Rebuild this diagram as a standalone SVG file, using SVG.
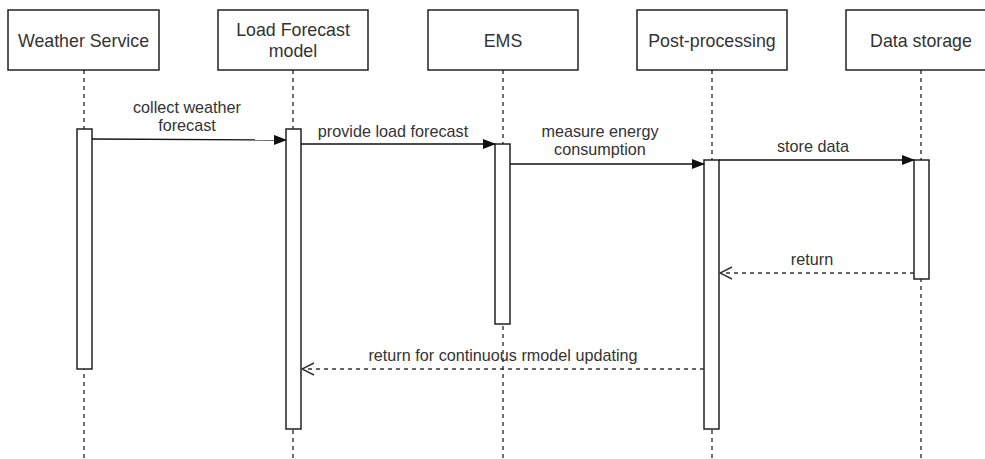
<svg xmlns="http://www.w3.org/2000/svg" width="985" height="459" viewBox="0 0 985 459">
  <style>
    .box { fill: #fff; stroke: #222; stroke-width: 1.5; }
    .act { fill: #fff; stroke: #222; stroke-width: 1.5; }
    .life { stroke: #222; stroke-width: 1.3; stroke-dasharray: 4 4; fill: none; }
    .msg { stroke: #111; stroke-width: 1.4; fill: none; }
    .ret { stroke: #333; stroke-width: 1.3; stroke-dasharray: 4 4; fill: none; }
    .title { font-family: "Liberation Sans", Arial, sans-serif; font-size: 17.8px; fill: #333; text-anchor: middle; }
    .lbl { font-family: "Liberation Sans", Arial, sans-serif; font-size: 16.2px; fill: #333; text-anchor: middle; }
  </style>
  <defs>
    <marker id="solid" markerWidth="13" markerHeight="10" refX="12" refY="5" orient="auto" markerUnits="userSpaceOnUse">
      <path d="M0,0 L13,5 L0,10 Z" fill="#111"/>
    </marker>
    <marker id="open" markerWidth="14" markerHeight="14" refX="13" refY="7" orient="auto" markerUnits="userSpaceOnUse">
      <path d="M1,1 L13,7 L1,13" fill="none" stroke="#333" stroke-width="1.4"/>
    </marker>
  </defs>
  <rect width="985" height="459" fill="#fff"/>

  <!-- lifelines -->
  <g id="lifelines">
    <line class="life" x1="84" y1="70" x2="84" y2="459"/>
    <line class="life" x1="293" y1="70" x2="293" y2="459"/>
    <line class="life" x1="503" y1="70" x2="503" y2="459"/>
    <line class="life" x1="712" y1="70" x2="712" y2="459"/>
    <line class="life" x1="921" y1="70" x2="921" y2="459"/>
  </g>

  <g id="weather-service">
    <rect class="box" x="8" y="10" width="151" height="60"/>
    <text class="title" x="83.5" y="47">Weather Service</text>
    <rect class="act" x="77" y="129" width="15" height="240"/>
  </g>
  <g id="load-forecast-model">
    <rect class="box" x="218" y="10" width="150" height="60"/>
    <text class="title" x="293" y="36">Load Forecast</text>
    <text class="title" x="293" y="57">model</text>
    <rect class="act" x="286" y="129" width="15" height="300"/>
  </g>
  <g id="ems">
    <rect class="box" x="428" y="10" width="150" height="60"/>
    <text class="title" x="503" y="47">EMS</text>
    <rect class="act" x="495" y="144" width="15" height="180"/>
  </g>
  <g id="post-processing">
    <rect class="box" x="637" y="10" width="150" height="60"/>
    <text class="title" x="712" y="47">Post-processing</text>
    <rect class="act" x="704" y="160" width="15" height="269"/>
  </g>
  <g id="data-storage">
    <rect class="box" x="846" y="10" width="150" height="60"/>
    <text class="title" x="921" y="47">Data storage</text>
    <rect class="act" x="914" y="160" width="15" height="119"/>
  </g>

  <g id="connectors">
    <line class="msg" x1="92" y1="139" x2="286" y2="140" marker-end="url(#solid)"/>
    <text class="lbl" x="187" y="113">collect weather</text>
    <text class="lbl" x="187" y="131">forecast</text>

    <line class="msg" x1="301" y1="144" x2="495" y2="144" marker-end="url(#solid)"/>
    <text class="lbl" x="393" y="137">provide load forecast</text>

    <line class="msg" x1="510" y1="164" x2="704" y2="164" marker-end="url(#solid)"/>
    <text class="lbl" x="600" y="137">measure energy</text>
    <text class="lbl" x="600" y="155">consumption</text>

    <line class="msg" x1="719" y1="160" x2="914" y2="160" marker-end="url(#solid)"/>
    <text class="lbl" x="813" y="152">store data</text>

    <line class="ret" x1="914" y1="273" x2="720" y2="273" marker-end="url(#open)"/>
    <text class="lbl" x="812" y="265">return</text>

    <line class="ret" x1="704" y1="369" x2="302" y2="369" marker-end="url(#open)"/>
    <text class="lbl" x="503" y="361">return for continuous rmodel updating</text>
  </g>
</svg>
